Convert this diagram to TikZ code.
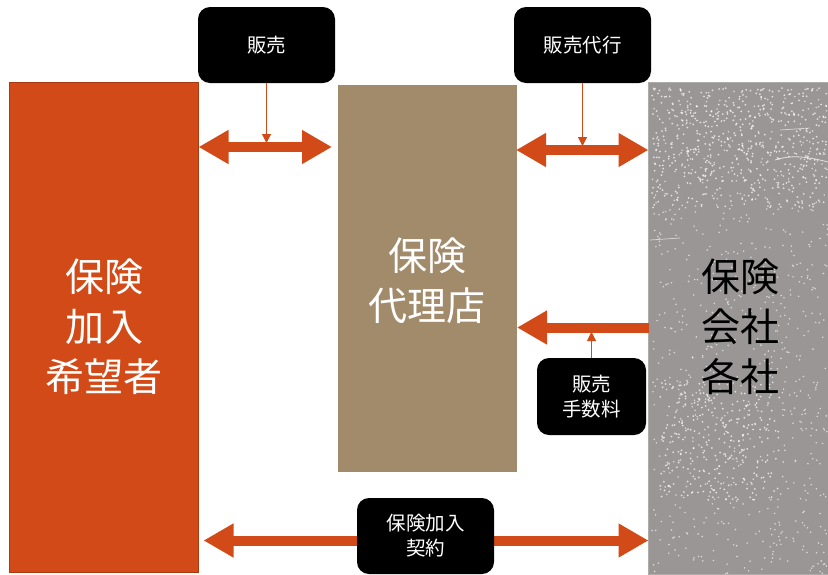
\documentclass[tikz,border=0pt]{standalone}
\usepackage{fontspec}
\newfontfamily\jp{Noto Sans CJK JP}
\usetikzlibrary{arrows.meta}
\definecolor{orng}{HTML}{D24A17}
\definecolor{orngdark}{HTML}{A83A14}
\definecolor{tan}{HTML}{A28B6A}
\definecolor{stone}{HTML}{9A9696}
\tikzset{
  panel/.style={anchor=north west,inner sep=0pt,outer sep=0pt},
  bigtext/.style={font=\jp\fontsize{39}{50}\selectfont,align=center},
  labelbox/.style={fill=black,rounded corners=12pt,text=white,align=center,
    font=\jp\fontsize{19.5}{25}\selectfont,inner sep=0pt},
  bigarrow/.style={draw=orng,line width=10pt,
    {Triangle[length=30pt,width=32pt]}-{Triangle[length=30pt,width=32pt]}},
  onearrow/.style={draw=orng,line width=10pt,-{Triangle[length=30pt,width=32pt]}},
  thinarrow/.style={draw=orng,line width=1.1pt,-{Triangle[length=9pt,width=9pt]}}
}
\begin{document}
\begin{tikzpicture}[x=1pt,y=-1pt]
\useasboundingbox (0,0) rectangle (828,574);
% panels
\node[panel,fill=orng,draw=orngdark,line width=1.2pt,minimum width=189pt,minimum height=490pt] (L) at (9.5,82.5) {};
\node[panel,fill=tan,minimum width=179pt,minimum height=387pt] (M) at (338,85) {};
\node[panel,fill=stone,draw=stone!80!white,line width=0.8pt,minimum width=180pt,minimum height=492pt] (R) at (648.5,82.5) {};
% texture
\begin{scope}
\clip (649,83) rectangle (828,574);
\pgfmathsetseed{11}
\foreach \i in {1,...,550}{
  \pgfmathsetmacro\rx{652+176*rnd}
  \pgfmathsetmacro\ry{88+120*rnd}
  \fill[white,opacity=0.7] (\rx,\ry) circle (1.0);
}
\foreach \i in {1,...,800}{
  \pgfmathsetmacro\rx{652+176*rnd}
  \pgfmathsetmacro\ry{88+486*rnd}
  \fill[white,opacity=0.6] (\rx,\ry) circle (0.9);
}
\foreach \i in {1,...,300}{
  \pgfmathsetmacro\rx{660+120*rnd}
  \pgfmathsetmacro\ry{380+120*rnd}
  \fill[white,opacity=0.7] (\rx,\ry) circle (1.0);
}
\draw[white,opacity=0.7,line width=0.8pt] (775,160) .. controls (790,155) and (805,156) .. (828,162);
\draw[white,opacity=0.6,line width=0.7pt] (650,240) -- (680,238);
\draw[white,opacity=0.6,line width=0.7pt] (780,130) -- (810,128);
\end{scope}
% panel texts
\node[bigtext,text=white] (Lt) at (104,327) {保険\\加入\\希望者};
\node[bigtext,text=white] (Mt) at (427,281) {保険\\代理店};
\node[bigtext,text=black] (Rt) at (740,327) {保険\\会社\\各社};
% label boxes
\node[labelbox,minimum width=137pt,minimum height=76pt] (B1) at (266.5,45) {販売};
\node[labelbox,minimum width=137pt,minimum height=76pt] (B2) at (582.5,45) {販売代行};
\node[labelbox,minimum width=109pt,minimum height=77pt] (B3) at (591.5,396.5) {販売\\手数料};
% arrows
\draw[bigarrow,shorten >=6pt] (L.east |- 0,147) -- (M.west |- 0,147);
\draw[bigarrow,shorten <=-1pt] (M.east |- 0,150) -- (R.west |- 0,150);
\draw[onearrow] (R.west |- 0,327.5) -- (M.east |- 0,327.5);
\draw[bigarrow,shorten <=5pt] (L.east |- 0,540.5) -- (R.west |- 0,540.5);
\node[labelbox,minimum width=137pt,minimum height=76pt] (B4) at (425.5,536) {保険加入\\契約};
\draw[thinarrow] (B1.south) -- (B1.south |- 0,143);
\draw[thinarrow] (B2.south) -- (B2.south |- 0,146);
\draw[thinarrow] (B3.north) -- (B3.north |- 0,332);
\end{tikzpicture}
\end{document}
